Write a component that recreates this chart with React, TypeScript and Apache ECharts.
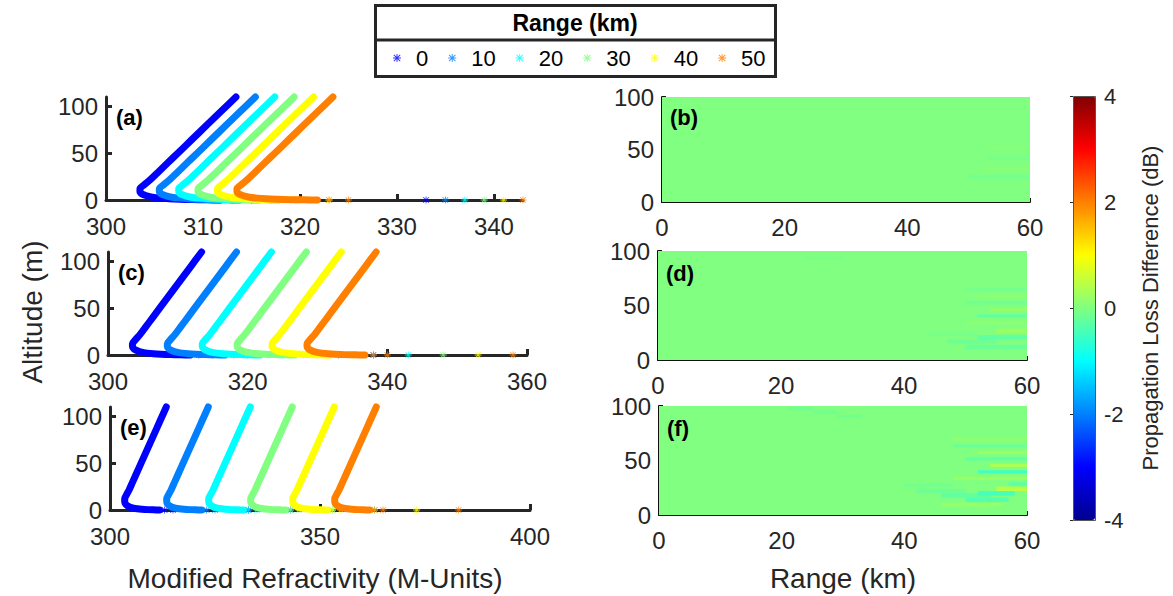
import React, { useEffect, useRef } from "react";
import * as echarts from "echarts";

const FONT = '"Liberation Sans", Arial, Helvetica, sans-serif';
const INK = "#262626";

// Range steps (km) and their jet colours
const rangeNames = ["0", "10", "20", "30", "40", "50"];
const rangeColors = ["#0000ff", "#0080ff", "#00ffff", "#80ff80", "#ffff00", "#ff8000"];

// Modified refractivity profile at range 0 km (altitude m -> M-units)
const profileAlt = [110, 95, 80, 65, 50, 40, 30, 22, 16, 12, 9, 6.5, 4.5, 3, 2, 1.3, 0.8, 0.4, 0.15, 0];
const profileM = [313.4, 311.9, 310.4, 308.9, 307.4, 306.4, 305.4, 304.6, 303.9, 303.5, 303.5, 303.7, 304.2, 304.8, 305.6, 306.5, 307.6, 308.9, 310.4, 311.8];
// Isolated near-surface samples of the same profile (altitude ~0)
const surfaceM = [313, 315, 333];

// Shift of the profile for each range step in the three scenarios
const shiftA = [0, 2, 4, 6, 8, 10];
const shiftC = [0, 5, 10, 15, 20, 25];
const shiftE = [0, 10, 20, 30, 40, 50];

// Axis limits and tick labels
const xMaxLeft = [343, 360, 400];
const xTicksLeft = [
  [300, 310, 320, 330, 340],
  [300, 320, 340, 360],
  [300, 350, 400],
];
const altTicks = [0, 50, 100];
const cbarTicks = [-4, -2, 0, 2, 4];

// Propagation loss difference fields: [x0 km, x1 km, z0 m, z1 m, dB]
const fieldB = [
  [0, 60, 0, 100, 0],
  [50, 60, 22, 26, -0.08],
  [52, 60, 30, 33, 0.08],
  [53, 60, 40, 43, -0.08],
  [54, 60, 50, 53, 0.06],
];
const fieldD = [
  [0, 60, 0, 100, 0],
  [44, 52, 22, 25, -0.08],
  [47, 55, 15, 19, -0.15],
  [50, 60, 10, 14, -0.18],
  [52, 60, 19, 23, -0.25],
  [55, 60, 25, 29, 0.2],
  [50, 60, 33, 36, 0.12],
  [52, 60, 39, 42, -0.22],
  [54, 60, 45, 48, 0.15],
  [50, 60, 51, 54, -0.12],
  [52, 60, 57, 60, 0.1],
  [50, 60, 63, 66, -0.08],
  [24, 30, 92, 95, -0.05],
];
const fieldF = [
  [0, 60, 0, 100, 0],
  [40, 48, 26, 29, -0.1],
  [42, 50, 20, 24, -0.15],
  [46, 54, 16, 20, -0.25],
  [50, 57, 12, 16, -0.35],
  [52, 58, 18, 22, -0.45],
  [55, 60, 22, 26, 0.45],
  [57, 60, 27, 30, -0.3],
  [46, 56, 8, 11, 0.2],
  [48, 60, 32, 35, 0.2],
  [52, 60, 38, 41, -0.5],
  [54, 60, 44, 47, 0.35],
  [50, 60, 50, 53, -0.25],
  [52, 60, 56, 59, 0.2],
  [48, 60, 62, 65, -0.15],
  [48, 60, 68, 71, 0.1],
  [21, 25, 96, 99, -0.15],
  [25, 29, 93, 96, -0.12],
  [29, 33, 89, 92, -0.1],
];

const JET = ["#00008f", "#0000ff", "#0080ff", "#00ffff", "#80ff80", "#ffff00", "#ff8000", "#ff0000", "#800000"];

// Eight-armed asterisk marker
const STAR =
  "path://M4.4,0h1.2v10h-1.2z M0,4.4h10v1.2h-10z M0.6,1.45L1.45,0.6L9.4,8.55L8.55,9.4z M8.55,0.6L9.4,1.45L1.45,9.4L0.6,8.55z";

const leftGrids = [
  { left: 106, top: 97, width: 417, height: 103 },
  { left: 108, top: 252, width: 419, height: 103 },
  { left: 110, top: 407, width: 420, height: 103 },
];
const rightGrids = [
  { left: 662, top: 97, width: 368, height: 105 },
  { left: 658, top: 251, width: 369, height: 109 },
  { left: 659, top: 406, width: 368, height: 109 },
];

function buildOption() {
  const grids: any[] = [];
  const xAxes: any[] = [];
  const yAxes: any[] = [];
  const series: any[] = [];

  const leftAxisStyle = {
    axisLine: { show: true, lineStyle: { color: INK, width: 3 } },
    axisTick: { show: true, inside: true, length: 6, lineStyle: { color: INK, width: 3 } },
    splitLine: { show: false },
  };
  const rightAxisStyle = {
    axisLine: { show: true, lineStyle: { color: "#111", width: 2 } },
    axisTick: { show: true, inside: true, length: 4, lineStyle: { color: "#111", width: 2 } },
    splitLine: { show: false },
  };
  const labelStyle = { color: INK, fontSize: 24, fontFamily: FONT, lineHeight: 16 };

  leftGrids.forEach((g, i) => {
    grids.push({ ...g, containLabel: false });
    xAxes.push({
      type: "value",
      gridIndex: i,
      min: 300,
      max: xMaxLeft[i],
      ...leftAxisStyle,
      axisTick: { ...leftAxisStyle.axisTick, customValues: xTicksLeft[i] },
      axisLabel: { ...labelStyle, margin: 18, customValues: xTicksLeft[i] },
    });
    yAxes.push({
      type: "value",
      gridIndex: i,
      min: 0,
      max: 110,
      ...leftAxisStyle,
      axisTick: { ...leftAxisStyle.axisTick, customValues: altTicks },
      axisLabel: { ...labelStyle, margin: 8, customValues: altTicks },
    });
  });
  rightGrids.forEach((g, i) => {
    grids.push({ ...g, containLabel: false });
    xAxes.push({
      type: "value",
      gridIndex: 3 + i,
      min: 0,
      max: 60,
      interval: 20,
      ...rightAxisStyle,
      axisLabel: { ...labelStyle, margin: 17 },
    });
    yAxes.push({
      type: "value",
      gridIndex: 3 + i,
      min: 0,
      max: 100,
      interval: 50,
      ...rightAxisStyle,
      axisLabel: { ...labelStyle, margin: 8 },
    });
  });
  // colour bar axis
  grids.push({ left: 1073, top: 96, width: 22, height: 424 });
  xAxes.push({ type: "value", gridIndex: 6, min: 0, max: 1, show: false });
  yAxes.push({
    type: "value",
    gridIndex: 6,
    position: "right",
    min: -4,
    max: 4,
    interval: 2,
    z: 10,
    axisLine: { show: false },
    axisTick: { show: true, inside: true, length: 3, lineStyle: { color: INK, width: 1 } },
    axisLabel: { ...labelStyle, fontSize: 22, margin: 9, customValues: cbarTicks },
    splitLine: { show: false },
    name: "Propagation Loss Difference (dB)",
    nameLocation: "middle",
    nameRotate: 90,
    nameGap: 44,
    nameTextStyle: { color: INK, fontSize: 22, fontFamily: FONT },
  });

  const shifts = [shiftA, shiftC, shiftE];
  // near-surface samples first so that the legend picks the asterisk marker
  shifts.forEach((sh, p) => {
    rangeNames.forEach((name, k) => {
      series.push({
        type: "scatter",
        name,
        xAxisIndex: p,
        yAxisIndex: p,
        symbol: STAR,
        symbolSize: 7,
        clip: false,
        itemStyle: { color: rangeColors[k] },
        data: surfaceM.map((m) => [m + sh[k], 0]),
      });
    });
  });
  shifts.forEach((sh, p) => {
    rangeNames.forEach((name, k) => {
      series.push({
        type: "line",
        name,
        xAxisIndex: p,
        yAxisIndex: p,
        showSymbol: false,
        clip: false,
        smooth: 0.3,
        lineStyle: { color: rangeColors[k], width: 7, cap: "round", join: "round" },
        itemStyle: { color: rangeColors[k] },
        data: profileAlt.map((z, j) => [profileM[j] + sh[k], z]),
      });
    });
  });

  const fieldIdx: number[] = [];
  [fieldB, fieldD, fieldF].forEach((f, i) => {
    fieldIdx.push(series.length);
    series.push({
      type: "custom",
      xAxisIndex: 3 + i,
      yAxisIndex: 3 + i,
      encode: { x: [0, 1], y: [2, 3] },
      renderItem: (_params: any, api: any) => {
        const p0 = api.coord([api.value(0), api.value(3)]);
        const p1 = api.coord([api.value(1), api.value(2)]);
        return {
          type: "rect",
          shape: { x: p0[0], y: p0[1], width: p1[0] - p0[0], height: p1[1] - p0[1] },
          style: { fill: api.visual("color") },
        };
      },
      data: f,
    });
  });

  const panelLabels = [
    { t: "(a)", x: 116, y: 106 },
    { t: "(c)", x: 118, y: 261 },
    { t: "(e)", x: 120, y: 416 },
    { t: "(b)", x: 670, y: 106 },
    { t: "(d)", x: 666, y: 262 },
    { t: "(f)", x: 667, y: 417 },
  ];

  return {
    animation: false,
    backgroundColor: "#ffffff",
    textStyle: { fontFamily: FONT },
    grid: grids,
    xAxis: xAxes,
    yAxis: yAxes,
    visualMap: {
      type: "continuous",
      min: -4,
      max: 4,
      dimension: 4,
      seriesIndex: fieldIdx,
      calculable: false,
      hoverLink: false,
      left: 1073,
      top: 96,
      padding: 0,
      itemWidth: 22,
      itemHeight: 424,
      inRange: { color: JET },
    },
    legend: {
      data: rangeNames.map((n) => ({ name: n, icon: STAR })),
      left: 393,
      top: 47,
      padding: 0,
      itemWidth: 8,
      itemHeight: 8,
      itemGap: 20,
      selectedMode: false,
      textStyle: { fontSize: 22, color: "#000", fontFamily: FONT, padding: [0, 0, 0, 10] },
    },
    graphic: [
      {
        type: "rect",
        shape: { x: 375.5, y: 5.5, width: 400, height: 71 },
        style: { fill: "none", stroke: INK, lineWidth: 3 },
        z: 100,
      },
      {
        type: "line",
        shape: { x1: 375, y1: 40, x2: 776, y2: 40 },
        style: { stroke: INK, lineWidth: 3 },
        z: 100,
      },
      {
        type: "text",
        x: 575,
        y: 23,
        style: { text: "Range (km)", font: `bold 23px ${FONT}`, fill: "#000", align: "center", verticalAlign: "middle" },
        z: 100,
      },
      {
        type: "rect",
        shape: { x: 1073.5, y: 96.5, width: 22, height: 424 },
        style: { fill: "none", stroke: "#555", lineWidth: 1 },
        z: 100,
      },
      {
        type: "text",
        x: 32,
        y: 312,
        rotation: Math.PI / 2,
        style: { text: "Altitude (m)", font: `28px ${FONT}`, fill: INK, align: "center", verticalAlign: "middle" },
      },
      {
        type: "text",
        x: 315,
        y: 578,
        style: { text: "Modified Refractivity (M-Units)", font: `28px ${FONT}`, fill: INK, align: "center", verticalAlign: "middle" },
      },
      {
        type: "text",
        x: 843,
        y: 578,
        style: { text: "Range (km)", font: `28px ${FONT}`, fill: INK, align: "center", verticalAlign: "middle" },
      },
      ...panelLabels.map((l) => ({
        type: "text",
        x: l.x,
        y: l.y,
        z: 50,
        style: { text: l.t, font: `bold 22px ${FONT}`, fill: "#000", align: "left", verticalAlign: "top" },
      })),
    ],
    series,
  };
}

export default function App() {
  const ref = useRef<HTMLDivElement>(null);
  useEffect(() => {
    if (!ref.current) return;
    const chart = echarts.init(ref.current, null, { renderer: "svg" });
    chart.setOption(buildOption() as any);
    return () => chart.dispose();
  }, []);
  return (
    <div
      ref={ref}
      style={{ position: "fixed", left: 0, top: 0, width: 1173, height: 596, background: "#fff" }}
    />
  );
}
